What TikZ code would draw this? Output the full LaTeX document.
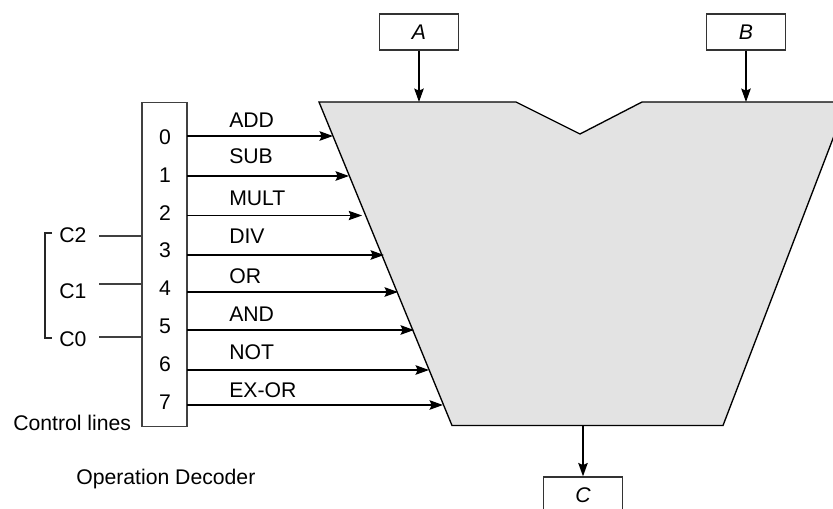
\documentclass[tikz,border=0pt]{standalone}
\usepackage{fontspec}
\setmainfont{Liberation Sans}
\usetikzlibrary{arrows.meta}

\begin{document}
\begin{tikzpicture}[x=0.75pt,y=-0.75pt,font=\fontsize{15.9}{18}\selectfont,
  regbox/.style={draw=black!80, line width=0.9pt, minimum width=59pt, minimum height=27pt, inner sep=0pt},
  opline/.style={line width=1.5pt, -{Stealth[length=10pt,width=7pt,inset=1.5pt]}},
  ctlline/.style={line width=0.9pt, black!75},
  oplabel/.style={anchor=west, inner sep=0pt},
  numlabel/.style={inner sep=0pt},
]
\definecolor{aluGray}{HTML}{E3E3E3}
\useasboundingbox (0,0) rectangle (833,508);
% alu body
\draw[fill=aluGray, line width=1pt, line join=miter] (319,102) -- (516,102) -- (580,134) -- (642,102) -- (847,102) -- (723,425.5) -- (452,425.5) -- cycle;
% operand boxes
\node[regbox] (A) at (419,32) {\textit{A}};
\node[regbox] (B) at (746,32) {\textit{B}};
\node[regbox] (C) at (583,495) {\textit{C}};
\coordinate (Ain) at (419,102);
\coordinate (Bin) at (746,102);
\coordinate (Cout) at (583,425.5);
\draw[opline] (A) -- (Ain);
\draw[opline] (B) -- (Bin);
\draw[opline] (Cout) -- (C);
% decoder
\draw[draw=black!75, line width=0.9pt, fill=white] (142,102.5) rectangle (187,426.5);
\node[numlabel] (n0) at (165,137) {0};
\node[numlabel] (n1) at (165,175) {1};
\node[numlabel] (n2) at (165,213) {2};
\node[numlabel] (n3) at (165,250) {3};
\node[numlabel] (n4) at (165,288) {4};
\node[numlabel] (n5) at (165,326) {5};
\node[numlabel] (n6) at (165,364) {6};
\node[numlabel] (n7) at (165,402) {7};
% operation lines
\foreach \yy/\xx/\lab/\ly in {136/333/ADD/120, 176/349/SUB/156, 255/384/DIV/236, 292/398/OR/276, 330/414/AND/314, 370/429/NOT/352, 405/443/EX-OR/390}{
  \coordinate (s\lab) at (187,\yy);
  \coordinate (e\lab) at (\xx,\yy);
  \draw[opline] (s\lab) -- (e\lab);
  \node[oplabel] at (229,\ly) {\lab};
}
\coordinate (sMULT) at (187,215.5);
\coordinate (eMULT) at (362,215.5);
\draw[opline, line width=0.8pt] (sMULT) -- (eMULT);
\node[oplabel] at (229,198) {MULT};
% control lines
\node[oplabel] (c2) at (59,235) {C2};
\node[oplabel] (c1) at (59,291) {C1};
\node[oplabel] (c0) at (59,339) {C0};
\coordinate (c2s) at (99,236);
\coordinate (c1s) at (99,284);
\coordinate (c0s) at (99,337);
\draw[ctlline] (c2s) -- (142,236);
\draw[ctlline] (c1s) -- (142,284);
\draw[ctlline] (c0s) -- (142,337);
\draw[ctlline, black!85] (52,233) -- (45,233) -- (45,338) -- (52,338);
\node[oplabel] at (13,423) {Control lines};
\node[oplabel] at (76,479) {Operation Decoder};
\end{tikzpicture}
\end{document}
